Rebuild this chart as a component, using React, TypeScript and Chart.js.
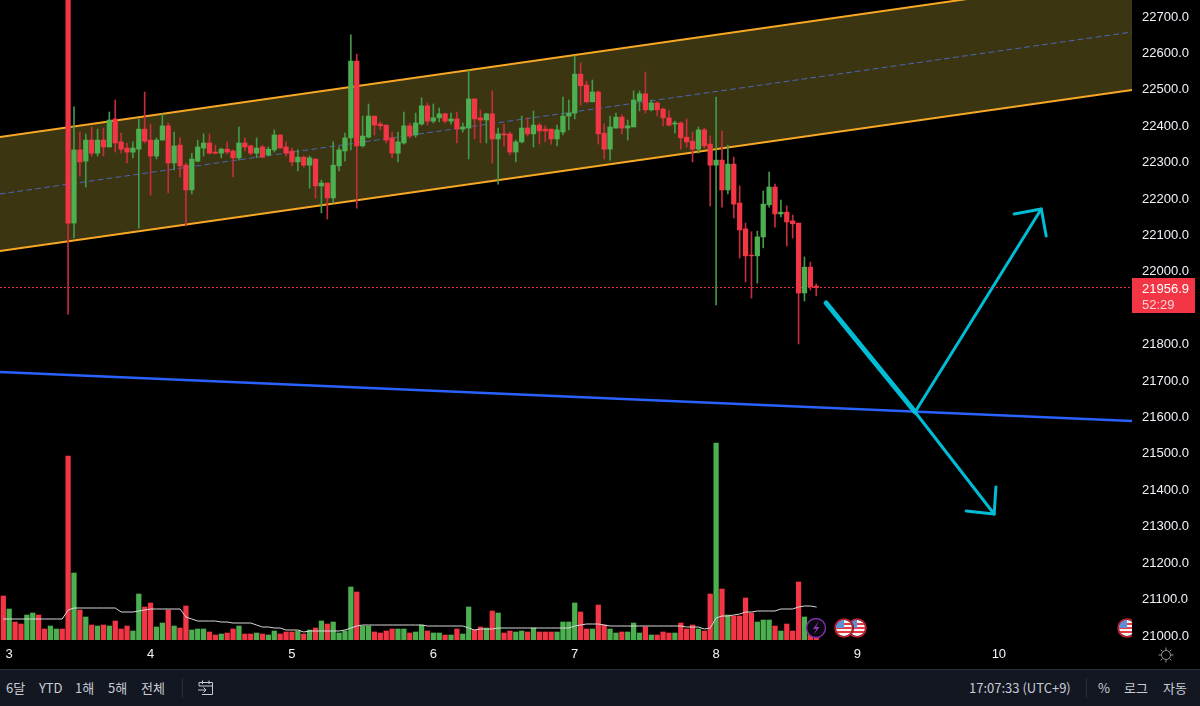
import { useEffect, useRef } from 'react';
import { Chart, registerables } from 'chart.js';

Chart.register(...registerables);

const RED = '#f23645';
const GREEN = '#4caf50';
const WICK_RED = '#c42d3d';
const WICK_GREEN = '#43984a';
const CYAN = '#00bcd4';
const ORANGE = '#f9a825';
const FONT = '"Liberation Sans", Arial, sans-serif';

// one candle per hour, hour 0 is the "3" tick
const firstCandleHour = 10;
const opens = [
  22770, 22134, 22335, 22304, 22362, 22326, 22362, 22343, 22420, 22357, 22340, 22329, 22337, 22392, 22362, 22318, 22362, 22401, 22299, 22348,
  22293, 22225, 22304, 22340, 22354, 22329, 22326, 22337, 22332, 22313, 22354, 22346, 22326, 22343, 22321, 22335, 22376, 22343, 22332, 22302,
  22315, 22293, 22310, 22236, 22244, 22203, 22291, 22332, 22368, 22579, 22346, 22370, 22428, 22406, 22403, 22368, 22326, 22354, 22401, 22376,
  22406, 22456, 22414, 22423, 22434, 22414, 22420, 22392, 22395, 22475, 22423, 22417, 22434, 22365, 22379, 22379, 22329, 22357, 22395, 22379,
  22403, 22392, 22392, 22365, 22384, 22428, 22436, 22543, 22513, 22467, 22494, 22381, 22337, 22395, 22425, 22395, 22398, 22469, 22489, 22445,
  22464, 22447, 22423, 22406, 22409, 22370, 22359, 22337, 22390, 22351, 22293, 22307, 22225, 22296, 22189, 22118, 22046, 22044, 22096, 22184,
  22233, 22159, 22164, 22140, 22134, 21942, 22013, 21961,
];
const highs = [
  22790, 22453, 22384, 22379, 22398, 22392, 22395, 22439, 22472, 22381, 22354, 22357, 22420, 22494, 22406, 22368, 22434, 22409, 22384, 22368,
  22299, 22326, 22362, 22379, 22379, 22348, 22340, 22357, 22335, 22398, 22368, 22348, 22368, 22348, 22343, 22390, 22376, 22357, 22340, 22335,
  22318, 22318, 22310, 22252, 22244, 22357, 22343, 22381, 22651, 22598, 22428, 22461, 22428, 22412, 22403, 22384, 22384, 22439, 22409, 22436,
  22478, 22464, 22461, 22450, 22436, 22436, 22439, 22409, 22554, 22475, 22445, 22436, 22497, 22395, 22406, 22384, 22362, 22428, 22423, 22442,
  22409, 22401, 22392, 22403, 22480, 22472, 22593, 22574, 22524, 22527, 22497, 22406, 22428, 22436, 22431, 22417, 22497, 22497, 22549, 22472,
  22467, 22450, 22442, 22414, 22412, 22420, 22384, 22398, 22395, 22373, 22480, 22387, 22348, 22315, 22236, 22134, 22110, 22112, 22222, 22274,
  22241, 22197, 22181, 22156, 22134, 22041, 22027, 21967,
];
const lows = [
  21884, 22093, 22263, 22233, 22318, 22318, 22318, 22343, 22329, 22326, 22299, 22313, 22120, 22354, 22211, 22310, 22362, 22217, 22280, 22261,
  22126, 22214, 22302, 22318, 22324, 22324, 22313, 22324, 22261, 22307, 22332, 22321, 22313, 22313, 22318, 22329, 22340, 22318, 22291, 22277,
  22288, 22230, 22203, 22162, 22145, 22189, 22277, 22304, 22335, 22175, 22343, 22368, 22376, 22390, 22354, 22313, 22302, 22351, 22368, 22370,
  22403, 22403, 22409, 22412, 22409, 22406, 22354, 22384, 22310, 22365, 22354, 22354, 22299, 22241, 22346, 22321, 22302, 22354, 22373, 22343,
  22351, 22357, 22351, 22346, 22376, 22390, 22420, 22458, 22464, 22467, 22351, 22310, 22307, 22395, 22379, 22362, 22398, 22442, 22436, 22442,
  22428, 22401, 22401, 22381, 22337, 22343, 22302, 22326, 22340, 22181, 21909, 22178, 22214, 22148, 22038, 21972, 21928, 21969, 22066, 22178,
  22123, 22151, 22071, 22093, 21802, 21920, 21950, 21934,
];
const closes = [
  22134, 22335, 22302, 22362, 22326, 22362, 22343, 22417, 22354, 22337, 22329, 22340, 22392, 22359, 22318, 22362, 22401, 22299, 22346, 22291,
  22225, 22310, 22343, 22354, 22326, 22326, 22337, 22329, 22313, 22354, 22343, 22326, 22340, 22315, 22337, 22376, 22340, 22326, 22302, 22315,
  22293, 22313, 22236, 22244, 22203, 22293, 22335, 22368, 22579, 22346, 22373, 22428, 22403, 22401, 22362, 22326, 22357, 22401, 22373, 22409,
  22456, 22414, 22423, 22434, 22414, 22420, 22392, 22398, 22475, 22420, 22417, 22434, 22365, 22379, 22376, 22329, 22357, 22395, 22379, 22403,
  22387, 22387, 22365, 22390, 22428, 22436, 22543, 22511, 22467, 22494, 22379, 22337, 22398, 22425, 22395, 22401, 22472, 22489, 22445, 22464,
  22445, 22423, 22403, 22409, 22368, 22357, 22337, 22390, 22346, 22293, 22307, 22225, 22296, 22186, 22115, 22044, 22044, 22096, 22186, 22233,
  22159, 22164, 22137, 22132, 21942, 22013, 21959, 21956.9,
];

// volume starts a little before the first candle on screen
const firstVolumeHour = -1;
const earlyVolumeUp = [false, true, false, false, true, true, false, false, true, true, false];
const volumes = [
  440, 310, 180, 160, 250, 270, 250, 110, 140, 110, 110,
  1840, 670, 300, 230, 150, 140, 150, 140, 190, 110, 140, 90, 460, 330, 370, 130, 170, 300, 140, 120,
  340, 100, 110, 110, 80, 50, 60, 70, 110, 140, 60, 60, 70, 60, 50, 90, 60, 80, 80, 90,
  60, 100, 120, 190, 160, 180, 70, 90, 530, 480, 140, 140, 80, 70, 90, 110, 110, 110, 70, 80,
  150, 90, 70, 70, 50, 50, 110, 60, 330, 100, 130, 120, 290, 270, 70, 90, 80, 90, 80, 120,
  80, 80, 80, 80, 180, 180, 370, 280, 110, 110, 350, 150, 110, 70, 80, 80, 170, 70, 130, 50,
  50, 80, 70, 70, 170, 110, 150, 110, 90, 460, 1970, 510, 250, 240, 240, 420, 270, 180, 200, 200,
  140, 90, 160, 90, 580, 230, 60, 20,
];
const volumeAverage = [
  210, 210, 210, 210, 210, 210, 210, 210, 210, 210, 210,
  300, 320, 320, 320, 320, 320, 320, 320, 320, 280, 280, 280, 290, 300, 310, 310, 310, 310, 310, 310,
  230, 210, 190, 190, 190, 190, 180, 180, 170, 170, 170, 170, 150, 130, 130, 120, 120, 100, 100, 100,
  80, 90, 90, 90, 90, 90, 90, 100, 120, 140, 150, 150, 150, 150, 150, 150, 150, 150, 150, 150,
  150, 140, 140, 140, 140, 140, 140, 140, 120, 100, 110, 110, 110, 120, 120, 120, 120, 120, 120, 120,
  120, 120, 120, 120, 120, 120, 140, 150, 160, 160, 160, 150, 140, 140, 140, 140, 140, 140, 140, 140,
  140, 140, 140, 140, 140, 130, 130, 130, 110, 120, 220, 240, 240, 250, 260, 280, 280, 290, 290, 290,
  290, 310, 310, 310, 330, 340, 340, 330,
];

const priceTicks = [21000, 21100, 21200, 21300, 21400, 21500, 21600, 21700, 21800, 21900, 22000, 22100, 22200, 22300, 22400, 22500, 22600, 22700];
const dayTicks = [0, 24, 48, 72, 96, 120, 144, 168];
const dayLabels = ['3', '4', '5', '6', '7', '8', '9', '10'];

// drawn tools, [hour, price] ends
const hourRange = [-1.56, 190.6];
const channelTop = [22370.4, 22814];
const channelMid = [22213.9, 22658.8];
const channelBottom = [22057.3, 22499.5];
const supportLine = [21725, 21590.4];
const lastPrice = 21956.9;
const fallLeg = [[138.68, 21914.5], [153.78, 21615.1]];
const upLeg = [[153.78, 21615.1], [175.2, 22172.7]];
const upHead = [[170.6, 22158.9], [175.2, 22172.7], [176.03, 22098.5]];
const downLeg = [[153.78, 21615.1], [167.2, 21335]];
const downHead = [[162.45, 21343.2], [167.2, 21335], [167.5, 21409.2]];

const pts = (list: number[][]) => list.map(([x, y]) => ({ x, y }));
const span = (ends: number[]) => hourRange.map((x, i) => ({ x, y: ends[i] }));

function volumeIsUp(hour: number, k: number) {
  if (hour < firstCandleHour) return earlyVolumeUp[k];
  const c = hour - firstCandleHour;
  return closes[c] >= opens[c];
}

function line(data: { x: number; y: number }[], color: string, width: number, order: number, extra = {}) {
  return {
    type: 'line',
    data,
    borderColor: color,
    borderWidth: width,
    pointRadius: 0,
    tension: 0,
    fill: false,
    order,
    borderCapStyle: 'round',
    borderJoinStyle: 'round',
    yAxisID: 'y',
    ...extra,
  };
}

// axes get a fixed size and no extra room for their first and last labels
function fixAxis(axis: any, size: { width?: number; height?: number }) {
  Object.assign(axis, size, { paddingLeft: 0, paddingRight: 0, paddingTop: 0, paddingBottom: 0 });
}

function drawFlag(ctx: CanvasRenderingContext2D, x: number, y: number) {
  ctx.save();
  ctx.beginPath();
  ctx.arc(x, y, 10, 0, Math.PI * 2);
  ctx.fillStyle = '#000';
  ctx.fill();
  ctx.beginPath();
  ctx.arc(x, y, 8, 0, Math.PI * 2);
  ctx.fillStyle = '#f5f5f5';
  ctx.fill();
  ctx.clip();
  ctx.fillStyle = '#e53945';
  ctx.fillRect(x - 9, y - 5, 18, 2);
  ctx.fillRect(x - 9, y - 1, 18, 2);
  ctx.fillRect(x - 9, y + 3, 18, 2);
  ctx.fillStyle = '#5b8fd6';
  ctx.fillRect(x - 9, y - 9, 9, 9);
  ctx.restore();
  ctx.beginPath();
  ctx.arc(x, y, 9, 0, Math.PI * 2);
  ctx.strokeStyle = '#c2202e';
  ctx.lineWidth = 1.5;
  ctx.stroke();
}

const overlays = {
  id: 'overlays',
  afterDraw(chart: Chart) {
    const ctx = chart.ctx;
    const { right, bottom } = chart.chartArea;
    ctx.save();

    // the price axis is cut at the bottom of the pane
    ctx.fillStyle = '#000';
    ctx.fillRect(right, bottom, 68, 30);

    // event markers
    ctx.beginPath();
    ctx.arc(816, 628, 9.5, 0, Math.PI * 2);
    ctx.fillStyle = '#0b0710';
    ctx.fill();
    ctx.strokeStyle = '#7b2fa8';
    ctx.lineWidth = 1.5;
    ctx.stroke();
    ctx.beginPath();
    ctx.moveTo(819, 621);
    ctx.lineTo(813, 629);
    ctx.lineTo(816.5, 629);
    ctx.lineTo(813.5, 635);
    ctx.lineTo(819.5, 627);
    ctx.lineTo(816, 627);
    ctx.closePath();
    ctx.fillStyle = '#8e3bbd';
    ctx.fill();
    drawFlag(ctx, 857, 628);
    drawFlag(ctx, 844, 628);
    ctx.save();
    ctx.beginPath();
    ctx.rect(1100, 610, 32, 40);
    ctx.clip();
    drawFlag(ctx, 1127, 628);
    ctx.restore();

    // last price tag
    ctx.fillStyle = RED;
    ctx.fillRect(1132, 278, 63, 35);
    ctx.fillStyle = '#ffffff';
    ctx.font = `13px ${FONT}`;
    ctx.textAlign = 'left';
    ctx.textBaseline = 'middle';
    ctx.fillText('21956.9', 1142, 289);
    ctx.fillStyle = '#fbd0d5';
    ctx.fillText('52:29', 1142, 305);

    // settings gear
    ctx.strokeStyle = '#8f929b';
    ctx.lineWidth = 1;
    ctx.beginPath();
    ctx.arc(1166, 655, 4.5, 0, Math.PI * 2);
    ctx.stroke();
    for (let a = 0; a < 8; a++) {
      const ang = (a * Math.PI) / 4;
      ctx.beginPath();
      ctx.moveTo(1166 + Math.cos(ang) * 5, 655 + Math.sin(ang) * 5);
      ctx.lineTo(1166 + Math.cos(ang) * 7.5, 655 + Math.sin(ang) * 7.5);
      ctx.stroke();
    }
    ctx.restore();
  },
};

const toolbarLeft = [
  { text: '6달', x: 6 },
  { text: 'YTD', x: 39 },
  { text: '1해', x: 75 },
  { text: '5해', x: 108 },
  { text: '전체', x: 141 },
];
const toolbarRight = [
  { text: '17:07:33 (UTC+9)', x: 969 },
  { text: '%', x: 1098 },
  { text: '로그', x: 1124 },
  { text: '자동', x: 1163 },
];

export default function App() {
  const canvasRef = useRef<HTMLCanvasElement>(null);

  useEffect(() => {
    if (!canvasRef.current) return;

    const chart = new Chart(canvasRef.current, {
      data: {
        datasets: [
          line(span(channelTop), ORANGE, 2, 21, { fill: '+1', backgroundColor: '#3b3512' }),
          line(span(channelBottom), ORANGE, 2, 20),
          line(span(channelMid), '#4a66b8', 1, 19, { borderDash: [5, 4] }),
          line(span(supportLine), '#2962ff', 2.5, 18),
          line(span([lastPrice, lastPrice]), RED, 1, 17, { borderDash: [2, 2], borderCapStyle: 'butt' }),
          {
            type: 'bar',
            data: volumes.map((v, k) => ({ x: firstVolumeHour + k, y: v })),
            backgroundColor: volumes.map((_, k) => (volumeIsUp(firstVolumeHour + k, k) ? GREEN : RED)),
            barThickness: 4.6,
            barPercentage: 1,
            grouped: false,
            order: 10,
            yAxisID: 'vol',
          },
          line(
            volumeAverage.map((v, k) => ({ x: firstVolumeHour + k, y: v })),
            '#d8d8d8',
            1,
            9,
            { yAxisID: 'vol' },
          ),
          {
            type: 'bar',
            data: highs.map((h, k) => ({ x: firstCandleHour + k, y: [lows[k], h] })),
            backgroundColor: closes.map((c, k) => (c >= opens[k] ? WICK_GREEN : WICK_RED)),
            barThickness: 1,
            barPercentage: 1,
            grouped: false,
            order: 6,
            yAxisID: 'y',
          },
          {
            type: 'bar',
            data: opens.map((o, k) => ({ x: firstCandleHour + k, y: [o, closes[k]] })),
            backgroundColor: closes.map((c, k) => (c >= opens[k] ? GREEN : RED)),
            barThickness: 4.6,
            barPercentage: 1,
            grouped: false,
            order: 5,
            yAxisID: 'y',
          },
          line(pts(fallLeg), CYAN, 5, 3),
          line(pts(upLeg), CYAN, 3, 3),
          line(pts(upHead), CYAN, 3, 3),
          line(pts(downLeg), CYAN, 3, 3),
          line(pts(downHead), CYAN, 3, 3),
        ],
      } as any,
      options: {
        animation: false,
        responsive: false,
        devicePixelRatio: 1,
        layout: { padding: 0 },
        plugins: { legend: { display: false }, tooltip: { enabled: false } },
        scales: {
          x: {
            type: 'linear',
            offset: false,
            min: hourRange[0],
            max: hourRange[1],
            grid: { display: false, drawTicks: false },
            border: { display: false },
            afterBuildTicks: (axis: any) => {
              axis.ticks = dayTicks.map((value) => ({ value }));
            },
            afterFit: (axis: any) => fixAxis(axis, { height: 30 }),
            ticks: {
              color: '#f0f3fa',
              font: { family: FONT, size: 13 },
              padding: 7,
              autoSkip: false,
              maxRotation: 0,
              callback: (v: any) => dayLabels[dayTicks.indexOf(v)],
            },
          },
          y: {
            type: 'linear',
            position: 'right',
            min: 20988.9,
            max: 22746.7,
            grid: { display: false, drawTicks: false },
            border: { display: false },
            afterBuildTicks: (axis: any) => {
              axis.ticks = priceTicks.map((value) => ({ value }));
            },
            afterFit: (axis: any) => fixAxis(axis, { width: 68 }),
            ticks: {
              color: '#f0f3fa',
              font: { family: FONT, size: 13 },
              padding: 10,
              crossAlign: 'near',
              autoSkip: false,
              callback: (v: any) => Number(v).toFixed(1),
            },
          },
          vol: {
            type: 'linear',
            display: false,
            position: 'right',
            min: 0,
            max: 6400,
            afterFit: (axis: any) => fixAxis(axis, { width: 0 }),
          },
        },
      } as any,
      plugins: [overlays],
    });

    return () => chart.destroy();
  }, []);

  const label = (item: { text: string; x: number }) => (
    <span key={item.text} style={{ position: 'absolute', left: item.x, top: 9, lineHeight: '18px' }}>
      {item.text}
    </span>
  );

  return (
    <div style={{ position: 'absolute', left: 0, top: 0, width: 1200, height: 706, overflow: 'hidden', background: '#000' }}>
      <canvas ref={canvasRef} width={1200} height={670} style={{ display: 'block' }} />
      <div
        style={{
          position: 'absolute',
          left: 0,
          top: 669,
          width: 1200,
          height: 37,
          boxSizing: 'border-box',
          borderTop: '1px solid #2a2e39',
          background: '#131722',
          color: '#c8cbd3',
          fontFamily: '"Noto Sans CJK KR", "Liberation Sans", sans-serif',
          fontSize: 13,
        }}
      >
        {toolbarLeft.map(label)}
        {toolbarRight.map(label)}
        <div style={{ position: 'absolute', left: 182, top: 8, width: 1, height: 20, background: '#2a2e39' }} />
        <div style={{ position: 'absolute', left: 1086, top: 8, width: 1, height: 20, background: '#2a2e39' }} />
        <svg style={{ position: 'absolute', left: 197, top: 9 }} width="18" height="18" viewBox="0 0 18 18" fill="none" stroke="#c8cbd3" strokeWidth="1">
          <path d="M2 7V3.5H15.5V15.5H5M2 7H15.5M5.5 1.5V5M12 1.5V5M1 11H9M6.5 8.5L9 11L6.5 13.5" />
        </svg>
      </div>
    </div>
  );
}
